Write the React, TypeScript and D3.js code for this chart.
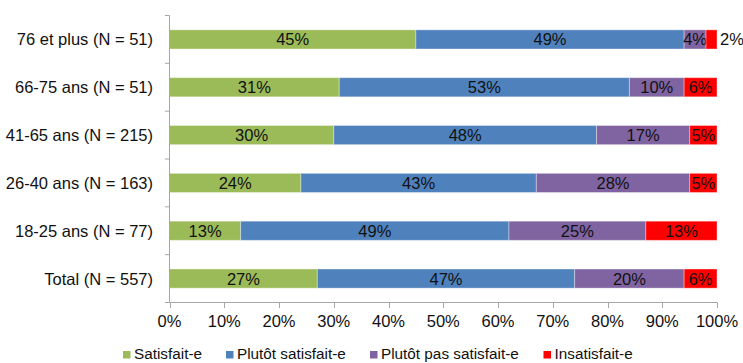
import React from "react";
import * as d3 from "d3";

const categories = [
  "76 et plus (N = 51)",
  "66-75 ans (N = 51)",
  "41-65 ans (N = 215)",
  "26-40 ans (N = 163)",
  "18-25 ans (N = 77)",
  "Total (N = 557)",
];
const seriesNames = ["Satisfait-e", "Plutôt satisfait-e", "Plutôt pas satisfait-e", "Insatisfait-e"];
const satisfait = [45, 31, 30, 24, 13, 27];
const plutotSatisfait = [49, 53, 48, 43, 49, 47];
const plutotPas = [4, 10, 17, 28, 25, 20];
const insatisfait = [2, 6, 5, 5, 13, 6];
const xTicks = [0, 10, 20, 30, 40, 50, 60, 70, 80, 90, 100];
const colors = ["#9BBB59", "#4F81BD", "#8064A2", "#FF0000"];

const W = 743;
const H = 363;
const FONT = "'Liberation Sans', Arial, sans-serif";
const FS = 16.5;

export default function App() {
  const x = d3.scaleLinear().domain([0, 100]).range([169.5, 717]);
  const y = d3.scaleBand<string>().domain(categories).range([15.5, 302.5]).paddingInner(0.6).paddingOuter(0.3);
  const band = d3.scaleBand<string>().domain(categories).range([15.5, 302.5]);
  const rows = categories.map((c, i) => ({
    cat: c,
    vals: [satisfait[i], plutotSatisfait[i], plutotPas[i], insatisfait[i]],
  }));
  const stack = d3.stack<any>().keys(["0", "1", "2", "3"]).value((d, k) => d.vals[+k]);
  const series = stack(rows);
  const legendX = [123, 226, 370, 543.5];

  return (
    <svg width={W} height={H} style={{ position: "absolute", left: 0, top: 0, fontFamily: FONT }}>
      <rect width={W} height={H} fill="#fff" />
      {series.map((s, si) =>
        s.map((d, i) => {
          const x0 = x(d[0]);
          const x1 = x(d[1]);
          const cy = (y(categories[i]) as number) + y.bandwidth() / 2;
          const v = rows[i].vals[si];
          const outside = si === 3 && v <= 2;
          return (
            <g key={`${si}-${i}`}>
              <rect
                x={x0}
                y={y(categories[i])}
                width={x1 - x0}
                height={y.bandwidth()}
                fill={colors[si]}
                stroke="rgba(255,255,255,0.35)"
                strokeWidth={1}
              />
              <text
                x={outside ? x1 + 3 : (x0 + x1) / 2}
                y={cy}
                dy="0.36em"
                textAnchor={outside ? "start" : "middle"}
                fontSize={FS}
                fill="#111"
              >
                {v}%
              </text>
            </g>
          );
        })
      )}
      {/* y axis */}
      <line x1={169.5} x2={169.5} y1={15.5} y2={302.5} stroke="#A6A6A6" />
      {categories.map((c, i) => (
        <line key={"yt" + i} x1={165} x2={169.5} y1={(band(c) as number)} y2={(band(c) as number)} stroke="#A6A6A6" />
      ))}
      <line x1={165} x2={169.5} y1={302.5} y2={302.5} stroke="#A6A6A6" />
      {categories.map((c) => (
        <text
          key={"yl" + c}
          x={153}
          y={(y(c) as number) + y.bandwidth() / 2}
          dy="0.36em"
          textAnchor="end"
          fontSize={FS}
          fill="#111"
        >
          {c}
        </text>
      ))}
      {/* x axis */}
      <line x1={169.5} x2={717} y1={302.5} y2={302.5} stroke="#A6A6A6" />
      {xTicks.map((t) => (
        <g key={"xt" + t}>
          <line x1={Math.round(x(t)) + 0.5} x2={Math.round(x(t)) + 0.5} y1={302.5} y2={308} stroke="#A6A6A6" />
          <text x={x(t)} y={321} dy="0.36em" textAnchor="middle" fontSize={FS} fill="#111">
            {t}%
          </text>
        </g>
      ))}
      {/* legend */}
      {seriesNames.map((n, i) => (
        <g key={"lg" + n}>
          <rect x={legendX[i]} y={351} width={7.5} height={7.5} fill={colors[i]} />
          <text x={legendX[i] + 11} y={359} fontSize={15.3} fill="#111">
            {n}
          </text>
        </g>
      ))}
    </svg>
  );
}
